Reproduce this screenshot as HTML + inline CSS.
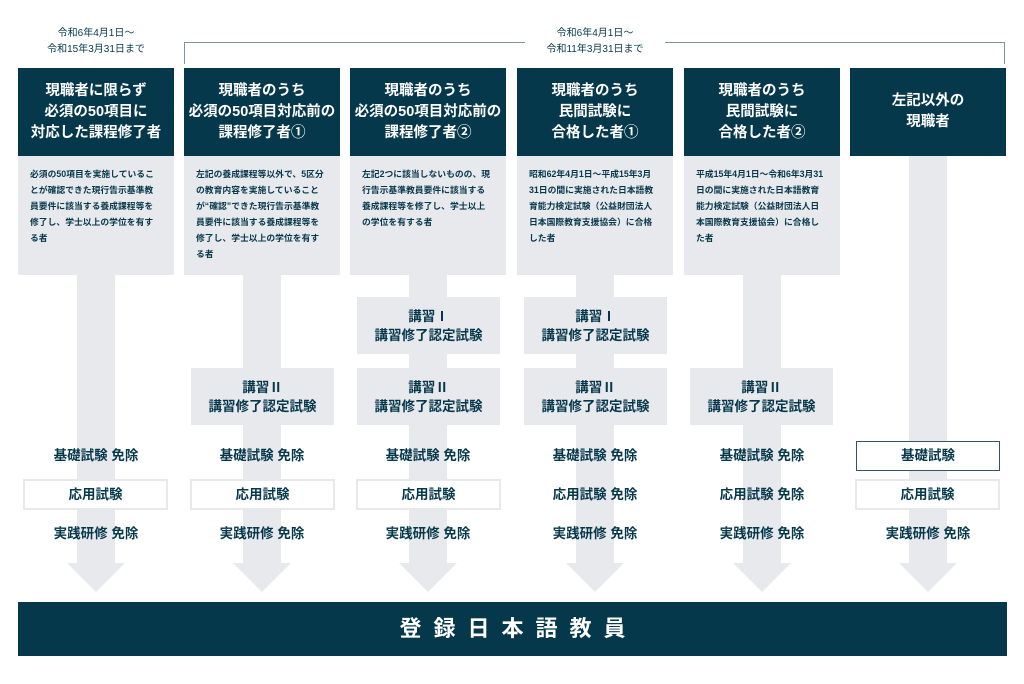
<!DOCTYPE html>
<html><head><meta charset="utf-8"><style>
*{margin:0;padding:0;box-sizing:border-box}
body{width:1024px;height:684px;background:#fff;position:relative;overflow:hidden;font-family:"Liberation Sans","Noto Sans CJK JP",sans-serif;color:#06384c}
.a{position:absolute}
.hd{position:absolute;top:68px;width:156px;height:88px;background:#06384c;color:#fff;font-weight:bold;font-size:14.5px;line-height:21px;display:flex;align-items:center;justify-content:center;text-align:center}
.ds{position:absolute;top:156px;width:156px;height:119px;background:#e8e9ed;font-size:8.8px;line-height:16px;padding:10px 13px 0 12px;font-weight:bold}
.sh{position:absolute;width:38px;background:#e8e9ed}
.ah{position:absolute;top:563px;width:0;height:0;border-left:29px solid transparent;border-right:29px solid transparent;border-top:29px solid #e8e9ed}
.ks{position:absolute;width:143px;height:57px;background:#e8e9ed;font-weight:bold;font-size:13.5px;line-height:19px;display:flex;align-items:center;justify-content:center;text-align:center}
.t{position:absolute;width:156px;text-align:center;font-weight:bold;font-size:13.5px;line-height:20px}
.bx{position:absolute;width:145px;height:31px;border:2px solid #e8e9ed;background:#fff;text-align:center;font-weight:bold;font-size:13.5px;line-height:27px}
.lb{position:absolute;text-align:center;font-size:10px;line-height:16px;background:#fff}
</style></head><body>
<div class="a" style="left:184px;top:42px;width:821px;height:22px;border:1.5px solid #7f939c;border-bottom:none"></div>
<div class="lb" style="left:525px;top:26px;width:140px;">令和6年4月1日～<br>令和11年3月31日まで</div>
<div class="lb" style="left:26px;top:26px;width:140px;">令和6年4月1日～<br>令和15年3月31日まで</div>

<div class="sh" style="left:77px;top:275px;height:288px"></div><div class="ah" style="left:67px"></div>
<div class="sh" style="left:243px;top:275px;height:288px"></div><div class="ah" style="left:233px"></div>
<div class="sh" style="left:409px;top:275px;height:288px"></div><div class="ah" style="left:399px"></div>
<div class="sh" style="left:576px;top:275px;height:288px"></div><div class="ah" style="left:566px"></div>
<div class="sh" style="left:743px;top:275px;height:288px"></div><div class="ah" style="left:733px"></div>
<div class="sh" style="left:909px;top:156px;height:407px"></div><div class="ah" style="left:899px"></div>

<div class="hd" style="left:18px">現職者に限らず<br>必須の50項目に<br>対応した課程修了者</div>
<div class="hd" style="left:184px">現職者のうち<br>必須の50項目対応前の<br>課程修了者①</div>
<div class="hd" style="left:350px">現職者のうち<br>必須の50項目対応前の<br>課程修了者②</div>
<div class="hd" style="left:517px">現職者のうち<br>民間試験に<br>合格した者①</div>
<div class="hd" style="left:684px">現職者のうち<br>民間試験に<br>合格した者②</div>
<div class="hd" style="left:850px">左記以外の<br>現職者</div>

<div class="ds" style="left:18px">必須の50項目を実施していることが確認できた現行告示基準教員要件に該当する養成課程等を修了し、学士以上の学位を有する者</div>
<div class="ds" style="left:184px">左記の養成課程等以外で、5区分の教育内容を実施していることが“確認”できた現行告示基準教員要件に該当する養成課程等を修了し、学士以上の学位を有する者</div>
<div class="ds" style="left:350px">左記2つに該当しないものの、現行告示基準教員要件に該当する養成課程等を修了し、学士以上の学位を有する者</div>
<div class="ds" style="left:517px">昭和62年4月1日～平成15年3月31日の間に実施された日本語教育能力検定試験（公益財団法人日本国際教育支援協会）に合格した者</div>
<div class="ds" style="left:684px">平成15年4月1日～令和6年3月31日の間に実施された日本語教育能力検定試験（公益財団法人日本国際教育支援協会）に合格した者</div>

<div class="ks" style="left:191px;top:368px">講習Ⅱ<br>講習修了認定試験</div>
<div class="ks" style="left:357px;top:297px">講習Ⅰ<br>講習修了認定試験</div>
<div class="ks" style="left:357px;top:368px">講習Ⅱ<br>講習修了認定試験</div>
<div class="ks" style="left:524px;top:297px">講習Ⅰ<br>講習修了認定試験</div>
<div class="ks" style="left:524px;top:368px">講習Ⅱ<br>講習修了認定試験</div>
<div class="ks" style="left:690px;top:368px">講習Ⅱ<br>講習修了認定試験</div>

<div class="t" style="left:18px;top:446px">基礎試験 免除</div>
<div class="t" style="left:184px;top:446px">基礎試験 免除</div>
<div class="t" style="left:350px;top:446px">基礎試験 免除</div>
<div class="t" style="left:517px;top:446px">基礎試験 免除</div>
<div class="t" style="left:684px;top:446px">基礎試験 免除</div>
<div class="bx" style="left:856px;top:441px;width:144px;height:30px;border:1.5px solid #2f5566;line-height:27px">基礎試験</div>

<div class="bx" style="left:23px;top:479px">応用試験</div>
<div class="bx" style="left:190px;top:479px">応用試験</div>
<div class="bx" style="left:356px;top:479px">応用試験</div>
<div class="t" style="left:517px;top:485px">応用試験 免除</div>
<div class="t" style="left:684px;top:485px">応用試験 免除</div>
<div class="bx" style="left:855px;top:479px">応用試験</div>

<div class="t" style="left:18px;top:524px">実践研修 免除</div>
<div class="t" style="left:184px;top:524px">実践研修 免除</div>
<div class="t" style="left:350px;top:524px">実践研修 免除</div>
<div class="t" style="left:517px;top:524px">実践研修 免除</div>
<div class="t" style="left:684px;top:524px">実践研修 免除</div>
<div class="t" style="left:850px;top:524px">実践研修 免除</div>

<div class="a" style="left:18px;top:602px;width:989px;height:54px;background:#06384c;color:#fff;font-size:22px;font-weight:bold;letter-spacing:12px;text-align:center;line-height:54px;padding-left:12px">登録日本語教員</div>
</body></html>
